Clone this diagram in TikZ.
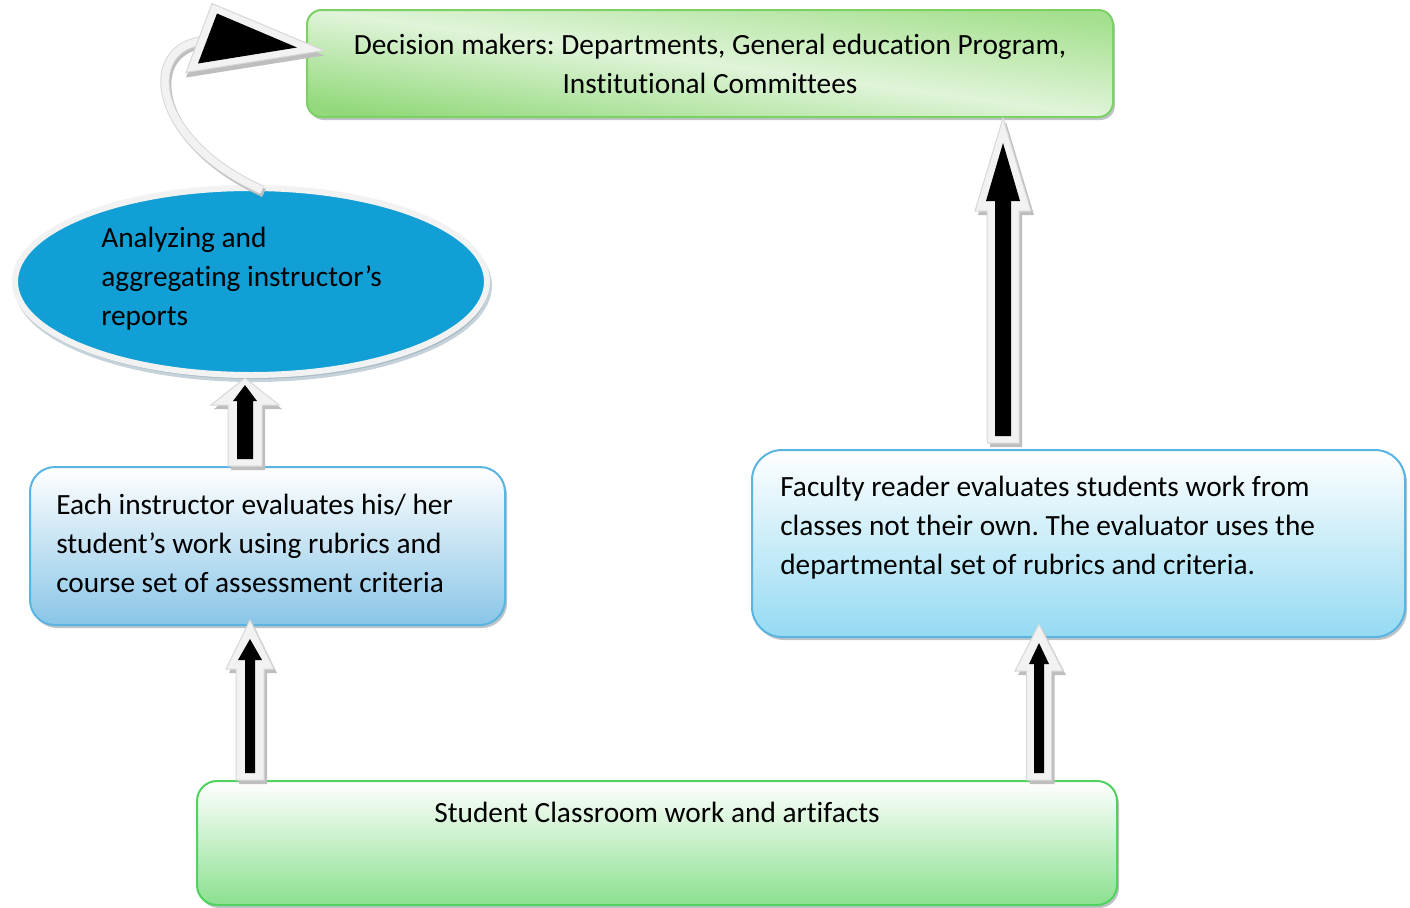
\documentclass[tikz,border=0pt]{standalone}
\usepackage{fontspec}
\setmainfont{Carlito}[Ligatures={NoCommon}, Contextuals={NoAlternate}]
\usepackage{xcolor}
\definecolor{DecDark}{RGB}{146,217,123}
\definecolor{DecTop}{RGB}{165,224,142}
\definecolor{DecLight}{RGB}{224,244,217}
\definecolor{DecLine}{RGB}{125,208,100}
\definecolor{WorkGreen}{RGB}{139,224,143}
\definecolor{WorkLine}{RGB}{80,210,95}
\definecolor{EvalBlue}{RGB}{137,197,231}
\definecolor{ReadBlue}{RGB}{148,218,242}
\definecolor{EvalLine}{RGB}{90,180,225}
\definecolor{AggBlue}{RGB}{18,159,214}
\definecolor{RimGray}{RGB}{242,242,242}
\definecolor{RimShadow}{RGB}{140,165,180}
\definecolor{BoxShadow}{RGB}{125,135,145}
\definecolor{ArrFill}{RGB}{242,242,242}
\definecolor{ArrLine}{RGB}{215,215,215}
\definecolor{ArrShadow}{RGB}{190,190,190}
\usetikzlibrary{positioning, shapes.geometric, shadows, calc}

% block arrow: base, tip, head length, head half width, shaft half width,
% inner head length, inner head half width, inner shaft half width, inner tip inset
\newcommand{\blockarrow}[9]{%
  \begin{scope}[transform canvas={xshift=2.25pt, yshift=-3pt}]
    \fill[ArrShadow] ($(#1)+(-#5,0)$) -- ($(#2)+(-#5,#3)$) -- ($(#2)+(-#4,#3)$) -- (#2)
      -- ($(#2)+(#4,#3)$) -- ($(#2)+(#5,#3)$) -- ($(#1)+(#5,0)$) -- cycle;
  \end{scope}
  \filldraw[arrbody] ($(#1)+(-#5,0)$) -- ($(#2)+(-#5,#3)$) -- ($(#2)+(-#4,#3)$) -- (#2)
    -- ($(#2)+(#4,#3)$) -- ($(#2)+(#5,#3)$) -- ($(#1)+(#5,0)$) -- cycle;
  \fill[black] ($(#1)+(-#8,-7)$) -- ($(#2)+(-#8,#9+#6)$) -- ($(#2)+(-#7,#9+#6)$) -- ($(#2)+(0,#9)$)
    -- ($(#2)+(#7,#9+#6)$) -- ($(#2)+(#8,#9+#6)$) -- ($(#1)+(#8,-7)$) -- cycle;
}

\begin{document}
\frenchspacing
\begin{tikzpicture}[
    x=0.75pt, y=-0.75pt,
    panel/.style={rectangle, draw, line width=1.5pt, inner sep=0pt,
      drop shadow={shadow xshift=1.5pt, shadow yshift=-2.25pt, fill=BoxShadow}},
    txt/.style={font=\fontsize{22}{29.25}\selectfont, inner sep=0pt, align=left},
    arrbody/.style={fill=ArrFill, draw=ArrLine, line width=0.75pt},
]
\useasboundingbox (0,0) rectangle (1410,907);

% Decision makers
\node[panel, txt, align=center, rounded corners=11pt, draw=DecLine,
  top color=DecTop, bottom color=DecDark, middle color=DecLight, shading angle=-7.57,
  minimum width=604.5pt, minimum height=80.25pt] (dm) at (710,63.5)
  {Decision makers: Departments, General education Program,\\Institutional Committees};

% Analyzing
\node[ellipse, fill=AggBlue, draw=RimGray, line width=4.5pt, inner sep=0pt,
  minimum width=354pt, minimum height=140.25pt,
  drop shadow={shadow xshift=1.5pt, shadow yshift=-3pt, fill=RimShadow, draw=RimShadow}] (an) at (251,281.5) {};
\node[txt, right=66.75pt of an.west, yshift=2pt] (antxt) {Analyzing and\\aggregating instructor’s\\reports};

% Instructor evaluation
\node[panel, rounded corners=18.75pt, draw=EvalLine, top color=white, bottom color=EvalBlue,
  minimum width=356.25pt, minimum height=118.5pt] (ev) at (267.5,546) {};
\node[txt, right=20.25pt of ev.west, yshift=2pt] (evtxt)
  {Each instructor evaluates his/ her\\student’s work using rubrics and\\course set of assessment criteria};

% Faculty reader
\node[panel, rounded corners=22.5pt, draw=EvalLine, top color=white, bottom color=ReadBlue,
  minimum width=489.75pt, minimum height=140.25pt] (rd) at (1078.5,543.5) {};
\node[txt, right=21.75pt of rd.west, yshift=11.6pt] (rdtxt)
  {Faculty reader evaluates students work from\\classes not their own. The evaluator uses the\\departmental set of rubrics and criteria.};

% Student work
\node[panel, rounded corners=15pt, draw=WorkLine, top color=white, bottom color=WorkGreen,
  minimum width=690pt, minimum height=93pt] (work) at (657,843) {};
\node[txt, below=16.5pt of work.north] (worktxt) {Student Classroom work and artifacts};

% Arrow ends
\coordinate (a1b) at (245,0 |- ev.north);
\coordinate (a1t) at (245,0 |- an.south);
\coordinate (a2b) at (250,0 |- work.north);
\coordinate (a2t) at ($(250,0 |- ev.south)+(0,-6)$);
\coordinate (a3b) at (1039,0 |- work.north);
\coordinate (a3t) at ($(1039,0 |- rd.south)+(0,-14)$);
\coordinate (a4b) at ($(1003,0 |- rd.north)+(0,-6)$);
\coordinate (a4t) at (1003,0 |- dm.south);
\coordinate (headtip) at ($(dm.west)+(18,-13)$);

% Block arrows
\blockarrow{a1b}{a1t}{27}{34}{17}{16}{12}{8}{7}
\blockarrow{a2b}{a2t}{49}{24}{14}{21}{12}{5}{19}
\blockarrow{a3b}{a3t}{47}{24}{12.5}{21}{10}{5}{19}
\blockarrow{a4b}{a4t}{93}{28}{16}{58}{17}{8}{25}

% Curved arrow
\draw[ArrShadow, line width=6.5pt, transform canvas={xshift=1.5pt, yshift=-2.25pt}]
  ($(an.north)+(11,5)$) .. controls (150,140) and (140,45) .. ($(headtip)+(-118,-10)$);
\draw[ArrLine, line width=7pt] ($(an.north)+(11,5)$) .. controls (150,140) and (140,45) .. ($(headtip)+(-118,-10)$);
\draw[ArrFill, line width=5.5pt] ($(an.north)+(11,5)$) .. controls (150,140) and (140,45) .. ($(headtip)+(-118,-10)$);
\fill[ArrShadow] ($(headtip)+(0,5)$) -- ($(headtip)+(-112,-42)$) -- ($(headtip)+(-138,27)$) -- cycle;
\filldraw[arrbody] (headtip) -- ($(headtip)+(-112,-47)$) -- ($(headtip)+(-138,22)$) -- cycle;
\fill[black] ($(headtip)+(-27,-3)$) -- ($(headtip)+(-107,-37)$) -- ($(headtip)+(-126,13)$) -- cycle;

\end{tikzpicture}
\end{document}
